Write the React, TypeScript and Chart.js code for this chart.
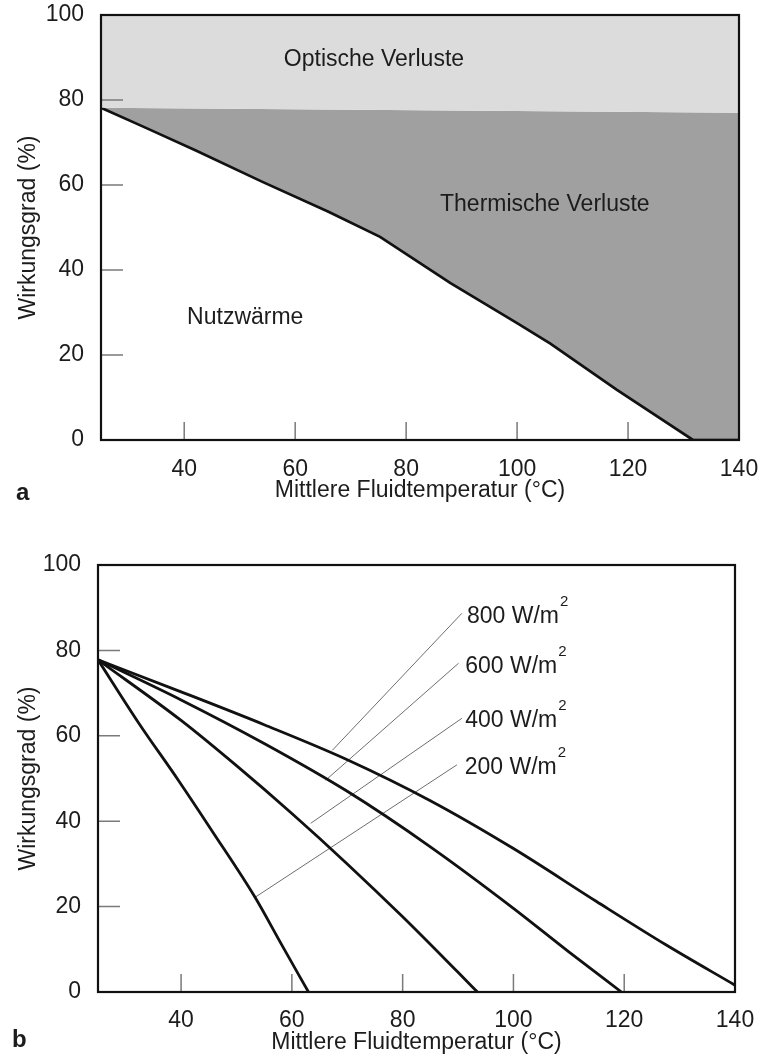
import React, { useEffect, useRef } from "react";
import { Chart, registerables } from "chart.js";

Chart.register(...registerables);

const FONT = "'Liberation Sans', Arial, Helvetica, sans-serif";
const TEXT = "#1c1c1c";

// ---------- Chart a ----------
const xTickValues = [40, 60, 80, 100, 120, 140];
const opticalX = [25, 140];
const opticalY = [78.2, 77.0];
const usefulX = [25, 33, 42, 54, 66, 75.3, 88, 100, 106, 118, 131.7, 140];
const usefulY = [78.2, 73.5, 68.2, 60.8, 53.7, 47.8, 36.9, 27.5, 22.7, 11.8, 0, 0];
const regionLabels = ["Optische Verluste", "Thermische Verluste", "Nutzwärme"];
const regionLabelX = [74.2, 105, 51];
const regionLabelY = [89.6, 55.3, 28.7];

// ---------- Chart b ----------
const s800X = [25, 40, 55, 70, 85, 100, 115, 127.6, 140];
const s800Y = [77.8, 70.3, 62.6, 54.4, 44.8, 33.6, 21.2, 11, 1.6];
const s600X = [25, 40, 55, 70, 85, 100, 110, 119.5];
const s600Y = [77.8, 68.4, 58.2, 47, 34, 19.6, 9.4, 0];
const s400X = [25, 40, 50, 60, 70, 80, 90, 93.5];
const s400Y = [77.8, 63.6, 53, 41.8, 30, 17.6, 4.6, 0];
const s200X = [25, 32.4, 39.5, 45.5, 53.3, 58.1, 63];
const s200Y = [77.8, 62.9, 49.6, 37.9, 22.3, 11.2, 0];
const irradianceLabels = ["800 W/m", "600 W/m", "400 W/m", "200 W/m"];
const labelX = [91.6, 91.3, 91.3, 91.2];
const labelY = [87.8, 76.1, 63.5, 52.6];
const leaderStartX = [90.7, 90.1, 90.7, 89.8];
const leaderStartY = [88.7, 77.0, 64.1, 53.2];
const leaderEndX = [67.3, 66.1, 63.4, 53.5];
const leaderEndY = [56.6, 49.6, 39.5, 22.3];

const pts = (xs: number[], ys: number[]) => xs.map((x, i) => ({ x, y: ys[i] }));

const LIGHT = "#dcdcdc";
const DARK = "#a0a0a0";

const framePlugin = {
  id: "frameTicks",
  afterDatasetsDraw(chart: any) {
    const { ctx, chartArea: ca, scales } = chart;
    const xs = scales.x;
    const ys = scales.y;
    ctx.save();
    ctx.strokeStyle = "#7a7a7a";
    ctx.lineWidth = 1.5;
    ctx.beginPath();
    xs.ticks.forEach((t: any) => {
      const px = xs.getPixelForValue(t.value);
      ctx.moveTo(px, ca.bottom);
      ctx.lineTo(px, ca.bottom - 18);
    });
    ys.ticks.forEach((t: any) => {
      const py = ys.getPixelForValue(t.value);
      ctx.moveTo(ca.left, py);
      ctx.lineTo(ca.left + 22, py);
    });
    ctx.stroke();
    ctx.strokeStyle = "#111";
    ctx.lineWidth = 2.2;
    ctx.strokeRect(ca.left, ca.top, ca.right - ca.left, ca.bottom - ca.top);
    ctx.restore();
  },
};

function makeScales(xHeight: number, yWidth: number, tickPad: number, titlePadBottom: number) {
  return {
    x: {
      type: "linear",
      min: 25,
      max: 140,
      afterBuildTicks: (s: any) => {
        s.ticks = xTickValues.map((v) => ({ value: v }));
      },
      afterFit: (s: any) => {
        s.height = xHeight;
        s.paddingLeft = 0;
        s.paddingRight = 0;
        s.paddingTop = 0;
        s.paddingBottom = 0;
      },
      grid: { display: false },
      border: { display: false },
      ticks: {
        autoSkip: false,
        maxRotation: 0,
        padding: tickPad,
        color: TEXT,
        font: { family: FONT, size: 23 },
      },
      title: {
        display: true,
        text: "Mittlere Fluidtemperatur (°C)",
        color: TEXT,
        font: { family: FONT, size: 23 },
        padding: { top: 0, bottom: titlePadBottom },
      },
    },
    y: {
      type: "linear",
      min: 0,
      max: 100,
      afterFit: (s: any) => {
        s.width = yWidth;
        s.paddingLeft = 0;
        s.paddingRight = 0;
        s.paddingTop = 0;
        s.paddingBottom = 0;
      },
      grid: { display: false },
      border: { display: false },
      ticks: {
        stepSize: 20,
        padding: 9,
        color: TEXT,
        font: { family: FONT, size: 23 },
      },
      title: {
        display: true,
        text: "Wirkungsgrad (%)",
        color: TEXT,
        font: { family: FONT, size: 23 },
        padding: { top: 15, bottom: 0 },
      },
    },
  };
}

function ChartA() {
  const ref = useRef<HTMLCanvasElement | null>(null);
  useEffect(() => {
    if (!ref.current) return;
    const annot = {
      id: "annotA",
      afterDatasetsDraw(chart: any) {
        const { ctx, scales } = chart;
        ctx.save();
        ctx.fillStyle = TEXT;
        ctx.font = `23px ${FONT}`;
        ctx.textAlign = "center";
        ctx.textBaseline = "middle";
        regionLabels.forEach((t, i) => {
          ctx.fillText(t, scales.x.getPixelForValue(regionLabelX[i]), scales.y.getPixelForValue(regionLabelY[i]));
        });
        ctx.font = `bold 24px ${FONT}`;
        ctx.textAlign = "left";
        ctx.textBaseline = "alphabetic";
        ctx.fillText("a", 16, 500);
        ctx.restore();
      },
    };
    const chart = new Chart(ref.current, {
      type: "line",
      data: {
        datasets: [
          {
            label: "Optische Verluste",
            data: pts(opticalX, opticalY),
            borderWidth: 0,
            borderColor: "rgba(0,0,0,0)",
            backgroundColor: LIGHT,
            pointRadius: 0,
            fill: "end",
          },
          {
            label: "Nutzwärme",
            data: pts(usefulX, usefulY),
            borderWidth: 2.7,
            borderColor: "#111",
            backgroundColor: DARK,
            pointRadius: 0,
            fill: "-1",
            tension: 0,
          },
        ],
      },
      options: {
        animation: false,
        responsive: false,
        layout: { padding: { top: 15, right: 24, left: 0, bottom: 0 } },
        plugins: { legend: { display: false }, tooltip: { enabled: false } },
        scales: makeScales(80, 101, 7.7, 16) as any,
      },
      plugins: [framePlugin, annot],
    });
    return () => chart.destroy();
  }, []);
  return <canvas ref={ref} width={763} height={520} style={{ position: "absolute", left: 0, top: 0 }} />;
}

function ChartB() {
  const ref = useRef<HTMLCanvasElement | null>(null);
  useEffect(() => {
    if (!ref.current) return;
    const annot = {
      id: "annotB",
      afterDatasetsDraw(chart: any) {
        const { ctx, scales } = chart;
        ctx.save();
        ctx.fillStyle = TEXT;
        irradianceLabels.forEach((t, i) => {
          const px = scales.x.getPixelForValue(labelX[i]);
          const py = scales.y.getPixelForValue(labelY[i]);
          ctx.font = `23px ${FONT}`;
          ctx.textAlign = "left";
          ctx.textBaseline = "middle";
          ctx.fillText(t, px, py);
          const w = ctx.measureText(t).width;
          ctx.font = `15px ${FONT}`;
          ctx.fillText("2", px + w + 1, py - 15);
        });
        ctx.font = `bold 24px ${FONT}`;
        ctx.textAlign = "left";
        ctx.textBaseline = "alphabetic";
        ctx.fillText("b", 12, 507);
        ctx.restore();
      },
    };
    const curve = (label: string, xs: number[], ys: number[]) => ({
      label,
      data: pts(xs, ys),
      borderWidth: 2.8,
      borderColor: "#111",
      pointRadius: 0,
      fill: false,
      cubicInterpolationMode: "monotone",
    });
    const leaders = irradianceLabels.map((l, i) => ({
      label: "leader " + l,
      data: [
        { x: leaderStartX[i], y: leaderStartY[i] },
        { x: leaderEndX[i], y: leaderEndY[i] },
      ],
      borderWidth: 1,
      borderColor: "#6e6e6e",
      pointRadius: 0,
      fill: false,
    }));
    const chart = new Chart(ref.current, {
      type: "line",
      data: {
        datasets: [
          curve("800 W/m²", s800X, s800Y),
          curve("600 W/m²", s600X, s600Y),
          curve("400 W/m²", s400X, s400Y),
          curve("200 W/m²", s200X, s200Y),
          ...leaders,
        ] as any,
      },
      options: {
        animation: false,
        responsive: false,
        layout: { padding: { top: 25, right: 28, left: 0, bottom: 0 } },
        plugins: { legend: { display: false }, tooltip: { enabled: false } },
        scales: makeScales(69, 98, 6.7, 5) as any,
      },
      plugins: [framePlugin, annot],
    });
    return () => chart.destroy();
  }, []);
  return <canvas ref={ref} width={763} height={521} style={{ position: "absolute", left: 0, top: 540 }} />;
}

export default function App() {
  return (
    <div style={{ position: "absolute", left: 0, top: 0, width: 763, height: 1061, background: "#fff" }}>
      <ChartA />
      <ChartB />
    </div>
  );
}
